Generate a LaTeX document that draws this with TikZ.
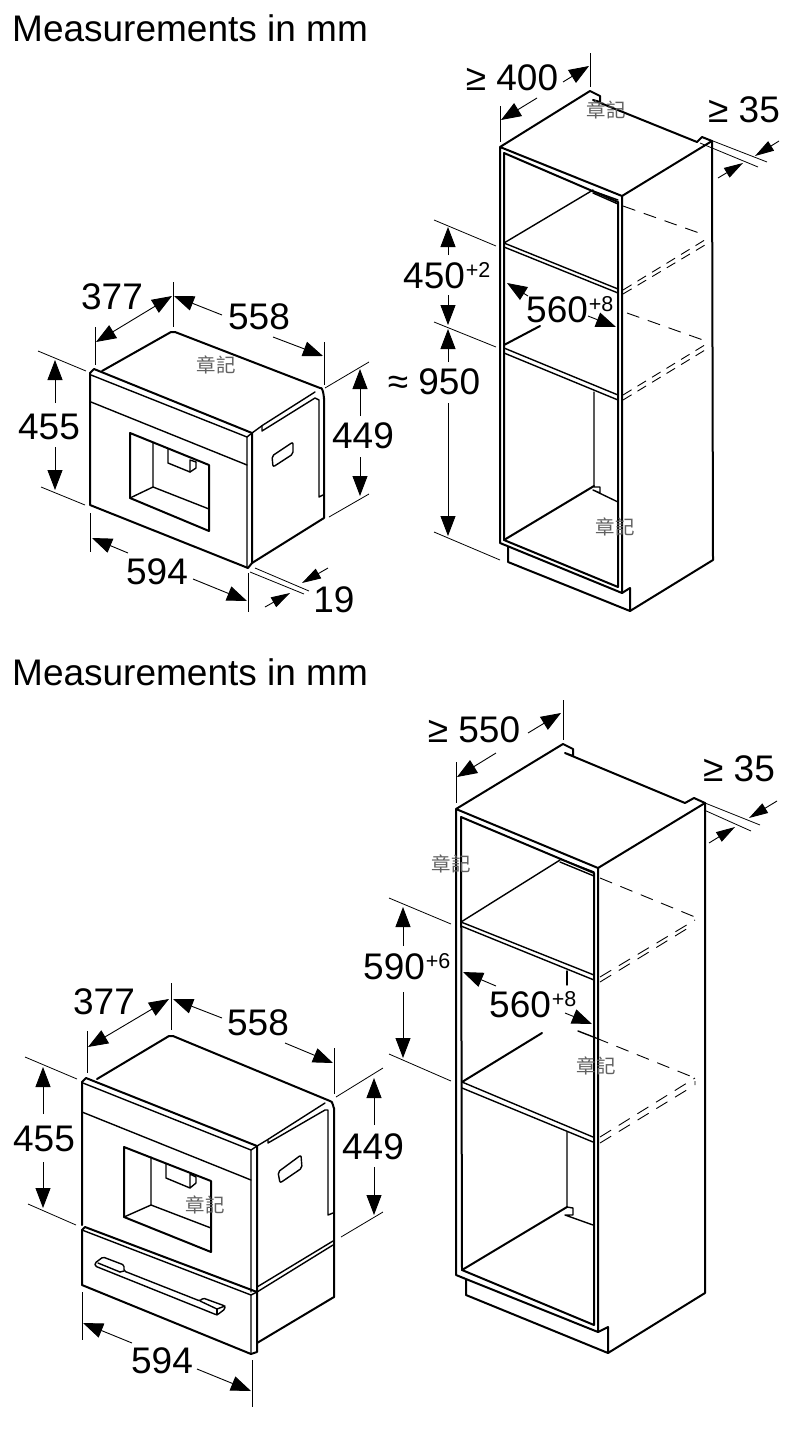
\documentclass[tikz,border=0pt]{standalone}
\usepackage{fontspec}
\setmainfont{Liberation Sans}
\newfontfamily\cjkfont{Noto Sans CJK TC}
\usetikzlibrary{arrows.meta}
\tikzset{
  heavy/.style={line width=2pt,line join=round,line cap=round},
  medium/.style={line width=1.4pt,line join=round,line cap=round},
  ext/.style={line width=0.8pt},
  dimline/.style={line width=0.9pt,-{Triangle[length=20pt,width=15pt]}},
  dimboth/.style={line width=0.9pt,{Triangle[length=20pt,width=15pt]}-{Triangle[length=20pt,width=15pt]}},
  dimsmall/.style={line width=0.9pt,-{Triangle[length=19pt,width=11pt]}},
  dash1/.style={line width=0.9pt,dash pattern=on 13pt off 9pt},
  dash2/.style={line width=0.9pt,dash pattern=on 10pt off 7pt},
  lab/.style={inner sep=0pt,font=\fontsize{37}{37}\selectfont},
  labb/.style={inner sep=0pt,anchor=base west,font=\fontsize{37}{37}\selectfont},
  title/.style={inner sep=0pt,anchor=west,font=\fontsize{37}{40}\selectfont},
  stamp/.style={inner sep=0pt,text=black!62,font=\cjkfont\fontsize{19.5}{20}\selectfont},
}
\newcommand{\supr}[1]{\kern1pt\raisebox{10.5pt}{\fontsize{21.5}{21.5}\selectfont #1}}
\begin{document}
\begin{tikzpicture}[x=1pt,y=-1pt]
\useasboundingbox (0,0) rectangle (790,1435);
\fill[white] (0,0) rectangle (790,1435);

%% ---------- titles
\node[title] (t1) at (12,28) {Measurements in mm};
\node[title] (t2) at (12,672) {Measurements in mm};

%% ---------- oven, top left
\draw[heavy] (102,371) -- (171,332) to[out=-20,in=200,looseness=0] (175,332) -- (320,388) to[out=25,in=-90] (324,398) -- (324,518) -- (252,563);
\draw[heavy] (90,505) -- (90,373) -- (94,369) -- (252,433) -- (252,563) -- (248,568) -- (90,505);
\draw[medium] (91,375) -- (247,437) -- (247,568);
\draw[medium] (247,437) -- (252,433);
\draw[medium] (91,402) -- (247,465);
\draw[heavy] (130,433) -- (209,465) -- (209,531) -- (130,498) -- cycle;
\draw[medium] (153,443) -- (153,487) -- (209,509);
\draw[medium] (130,498) -- (153,487);
\draw[medium] (168,449) -- (168,463) -- (190,472) -- (190,460) -- (196,462);
\draw[medium] (190,472) -- (196,468) -- (196,462);
\draw[medium] (252,433) -- (263,425) -- (315,392);
\draw[medium] (262,426) -- (262,431) -- (315,398) -- (319,400) -- (319,497) -- (323,495);
\draw[medium,rounded corners=2pt] (272,456) -- (293,442) -- (293,454) -- (273,467) -- cycle;
\node[stamp] (s1) at (216,365) {章記};
% dims
\draw[ext] (95,327) -- (95,365);
\draw[ext] (173,282) -- (173,327);
\draw[ext] (324,342) -- (324,385);
\draw[dimboth] (96,342) -- (172,296);
\draw[dimline] (222,315) -- (174,296);
\draw[dimline] (273,337) -- (323,356);
\node[lab] (a377) at (112,297) {377};
\node[lab] (a558) at (259,317) {558};
\draw[ext] (38,351) -- (86,371);
\draw[ext] (41,487) -- (85,505);
\draw[dimline] (55,403) -- (55,360);
\draw[dimline] (55,447) -- (55,490);
\node[lab] (a455) at (49,427) {455};
\draw[ext] (325,388) -- (369,362);
\draw[ext] (329,517) -- (369,494);
\draw[dimline] (360,416) -- (360,369);
\draw[dimline] (360,457) -- (360,496);
\node[lab] (a449) at (363,436) {449};
\draw[ext] (90,513) -- (90,552);
\draw[ext] (248,573) -- (248,612);
\draw[dimline] (128,553) -- (92,538);
\draw[dimline] (193,579) -- (247,601);
\node[lab] (a594) at (157,572) {594};
\draw[ext] (255,568) -- (309,591);
\draw[ext] (250,572) -- (304,594);
\draw[dimsmall] (328,568) -- (302,583);
\draw[dimsmall] (265,607) -- (290,593);
\node[lab] (a19) at (334,600) {19};

%% ---------- cabinet, top right
\draw[heavy] (500,147) -- (590,91) -- (600,96) -- (600,102) -- (593,100) -- (697,142) -- (702,137) -- (712,141) -- (622,196) -- (500,147) -- (500,543) -- (622,593) -- (622,196);
\draw[heavy] (712,141) -- (713,560) -- (630,611) -- (630,588) -- (622,593);
\draw[heavy] (508,547) -- (508,562) -- (630,611);
\draw[heavy] (504,153) -- (618,202) -- (618,587) -- (504,540) -- cycle;
\draw[medium] (504,243) -- (618,289);
\draw[medium] (504,247) -- (618,293);
\draw[medium] (504,243) -- (593,190);
\draw[medium] (593,191) -- (618,200);
\draw[medium] (593,193) -- (618,204);
\draw[medium] (504,348) -- (618,395);
\draw[medium] (504,353) -- (618,400);
\draw[heavy] (504,345) -- (540,326);
\draw[medium] (594,392) -- (594,487) -- (600,487) -- (600,493) -- (593,490) -- (618,502);
\draw[heavy] (504,540) -- (594,486);
\draw[dash1] (623,206) -- (702,234);
\draw[dash2] (623,290) -- (708,238);
\draw[dash2] (623,294) -- (710,242);
\draw[dash1] (627,313) -- (703,340);
\draw[dash2] (623,395) -- (708,343);
\draw[dash2] (623,400) -- (710,347);
\node[stamp] (s2) at (606,110) {章記};
\node[stamp] (s3) at (615,527) {章記};
% dims
\draw[ext] (590,53) -- (590,87);
\draw[ext] (500,106) -- (500,142);
\draw[dimline] (563,82) -- (589,66);
\draw[dimline] (537,98) -- (501,120);
\node[lab] (b400) at (512,78) {≥ 400};
\draw[ext] (713,141) -- (767,162);
\draw[ext] (700,143) -- (758,167);
\draw[dimsmall] (779,141) -- (755,156);
\draw[dimsmall] (718,178) -- (743,163);
\node[lab] (b35) at (744,110) {≥ 35};
\draw[ext] (434,220) -- (496,246);
\draw[ext] (434,322) -- (496,347);
\draw[ext] (434,532) -- (500,560);
\draw[dimline] (448,255) -- (448,227);
\draw[dimline] (448,295) -- (448,325);
\draw[dimline] (448,362) -- (448,329);
\draw[dimline] (448,403) -- (448,536);
\node[labb] (b450) at (403,288) {450\supr{+2}};
\node[lab] (b950) at (434,382) {≈ 950};
\draw[dimline] (528,296) -- (507,283);
\draw[dimline] (588,316) -- (616,327);
\node[labb] (b560) at (526,322) {560\supr{+8}};

%% ---------- oven with drawer, bottom left
\draw[heavy] (97,1079) -- (169,1036) to[out=-20,in=200,looseness=0] (173,1036) -- (330,1101) to[out=25,in=-90] (334,1108) -- (334,1297) -- (257,1343);
\draw[heavy] (82,1225) -- (82,1082) -- (86,1078) -- (257,1146) -- (257,1352) -- (251,1354) -- (82,1285) -- (82,1230) -- (85,1227) -- (257,1292);
\draw[medium] (83,1083) -- (251,1150) -- (251,1292);
\draw[medium] (251,1150) -- (257,1146);
\draw[medium] (82,1112) -- (251,1180);
\draw[medium] (82,1230) -- (251,1295) -- (251,1354);
\draw[medium] (251,1295) -- (257,1292);
\draw[heavy] (124,1147) -- (211,1181) -- (211,1252) -- (124,1217) -- cycle;
\draw[medium] (151,1157) -- (151,1205) -- (211,1228);
\draw[medium] (124,1217) -- (151,1205);
\draw[medium] (166,1164) -- (166,1178) -- (190,1188) -- (190,1174) -- (196,1177) -- (196,1183) -- (190,1188);
\draw[medium] (257,1146) -- (267,1140) -- (325,1103);
\draw[medium] (268,1140) -- (268,1143) -- (325,1110) -- (328,1110) -- (328,1215) -- (333,1213);
\draw[medium] (257,1287) -- (333,1241);
\draw[medium] (257,1292) -- (333,1245);
\draw[heavy] (334,1297) -- (334,1241);
\draw[medium,rounded corners=2pt] (278,1172) -- (301,1155) -- (302,1168) -- (280,1183) -- cycle;
\draw[medium,rounded corners=1.5pt] (95,1263) -- (103,1257) -- (124,1265) -- (124,1271) -- (200,1301) -- (203,1298) -- (225,1306) -- (225,1309) -- (217,1315) -- (95,1266) -- cycle;
\draw[medium] (98,1263) -- (120,1272);
\draw[medium] (217,1309) -- (217,1315);
\draw[medium] (120,1272) -- (124,1271);
\draw[medium] (200,1301) -- (217,1309) -- (225,1306);
\node[stamp] (s4) at (205,1205) {章記};
% dims
\draw[ext] (87,1031) -- (87,1073);
\draw[ext] (171,983) -- (171,1030);
\draw[ext] (334,1048) -- (334,1094);
\draw[dimboth] (88,1047) -- (169,999);
\draw[dimline] (222,1018) -- (173,999);
\draw[dimline] (285,1043) -- (333,1063);
\node[lab] (c377) at (104,1002) {377};
\node[lab] (c558) at (258,1023) {558};
\draw[ext] (25,1057) -- (77,1079);
\draw[ext] (28,1204) -- (76,1225);
\draw[dimline] (43,1114) -- (43,1067);
\draw[dimline] (43,1162) -- (43,1208);
\node[lab] (c455) at (44,1139) {455};
\draw[ext] (336,1097) -- (383,1068);
\draw[ext] (341,1237) -- (383,1212);
\draw[dimline] (374,1125) -- (374,1078);
\draw[dimline] (374,1167) -- (374,1215);
\node[lab] (c449) at (373,1147) {449};
\draw[ext] (82,1292) -- (82,1340);
\draw[ext] (252,1360) -- (252,1407);
\draw[dimline] (132,1343) -- (83,1323);
\draw[dimline] (197,1369) -- (251,1391);
\node[lab] (c594) at (162,1361) {594};

%% ---------- cabinet, bottom right
\draw[heavy] (456,809) -- (563,744) -- (573,749) -- (573,756) -- (565,753) -- (685,803) -- (694,798) -- (705,803) -- (598,868) -- (456,809) -- (456,1275) -- (598,1332) -- (598,868);
\draw[heavy] (705,803) -- (705,1293) -- (608,1353) -- (608,1327) -- (598,1332);
\draw[heavy] (466,1280) -- (466,1295) -- (608,1353);
\draw[heavy] (461,817) -- (594,873) -- (594,1325) -- (462,1270) -- cycle;
\draw[medium] (461,922) -- (594,975);
\draw[medium] (461,926) -- (594,980);
\draw[medium] (461,922) -- (560,860);
\draw[medium] (560,859) -- (594,872);
\draw[medium] (560,862) -- (594,876);
\draw[medium] (462,1082) -- (593,1137);
\draw[medium] (462,1088) -- (593,1142);
\draw[heavy] (462,1082) -- (542,1033);
\draw[medium] (567,971) -- (567,985);
\draw[medium] (567,1132) -- (567,1207) -- (573,1208) -- (573,1215) -- (565,1215) -- (593,1225);
\draw[heavy] (462,1270) -- (567,1207);
\draw[dash1] (600,878) -- (695,917) -- (695,924);
\draw[dash1] (600,977) -- (695,920);
\draw[dash1] (600,982) -- (693,925);
\draw[medium] (578,1031) -- (596,1038);
\draw[dash1] (596,1038) -- (695,1078) -- (695,1085);
\draw[dash1] (600,1137) -- (695,1078);
\draw[dash1] (600,1143) -- (690,1088);
\node[stamp] (s5) at (451,864) {章記};
\node[stamp] (s6) at (596,1066) {章記};
% dims
\draw[ext] (563,700) -- (563,740);
\draw[ext] (456,762) -- (456,803);
\draw[dimline] (528,733) -- (561,713);
\draw[dimline] (496,753) -- (457,777);
\node[lab] (d550) at (474,730) {≥ 550};
\draw[ext] (705,803) -- (760,825);
\draw[ext] (704,810) -- (751,831);
\draw[dimsmall] (777,801) -- (749,818);
\draw[dimsmall] (709,843) -- (735,827);
\node[lab] (d35) at (739,769) {≥ 35};
\draw[ext] (389,898) -- (451,924);
\draw[ext] (389,1054) -- (451,1081);
\draw[dimline] (403,946) -- (403,907);
\draw[dimline] (403,992) -- (403,1058);
\node[labb] (d590) at (363,979) {590\supr{+6}};
\draw[dimline] (496,986) -- (463,972);
\draw[dimline] (565,1013) -- (592,1024);
\node[labb] (d560) at (489,1017) {560\supr{+8}};
\end{tikzpicture}
\end{document}
